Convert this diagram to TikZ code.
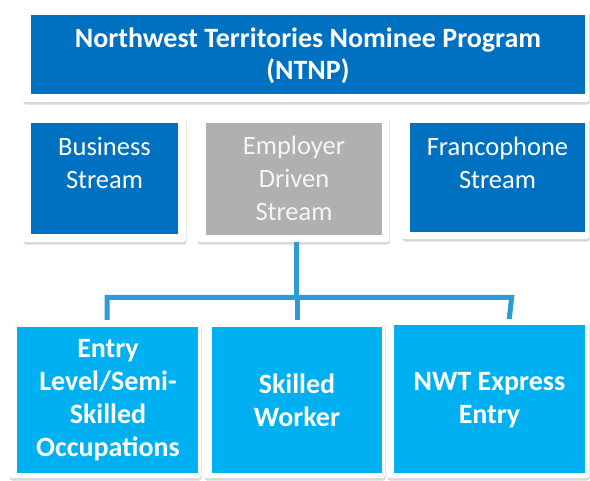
\documentclass[tikz,border=0pt]{standalone}
\usepackage{fontspec}
\setmainfont{Carlito}
\usetikzlibrary{shadows}
\definecolor{dblue}{RGB}{0,112,192}
\definecolor{lblue}{RGB}{0,176,240}
\definecolor{greybox}{RGB}{176,176,176}
\definecolor{conncol}{RGB}{45,155,215}
\begin{document}
\begin{tikzpicture}[x=1pt,y=-1pt,
  card/.style={draw=none,fill=white,rounded corners=3pt,anchor=north west,inner sep=0,
    drop shadow={shadow xshift=0.5pt,shadow yshift=-2.5pt,opacity=0.25,fill=black!60}},
  inbox/.style={draw=none,anchor=north west,inner sep=0},
  lbl/.style={text=white,align=center,inner sep=0,font=\fontsize{26.5}{33}\selectfont},
  lblb/.style={lbl,font=\fontsize{28}{33}\selectfont\bfseries},
  conn/.style={draw=conncol,line width=5pt}]
\useasboundingbox[fill=white] (0,0) rectangle (590,481);
% top
\node[card,minimum width=566pt,minimum height=94pt] (topc) at (23,8) {};
\node[inbox,fill=dblue,minimum width=554pt,minimum height=79pt] (topb) at (31,15) {};
\node[lblb,font=\fontsize{28}{32}\selectfont\bfseries] (toptext) at (308,56) {Northwest Territories Nominee Program\\(NTNP)};
% second row
\node[card,minimum width=163pt,minimum height=127pt] (busc) at (23,115) {};
\node[inbox,fill=dblue,minimum width=147pt,minimum height=111pt] (busb) at (31,123) {};
\node[lbl,anchor=north] (bust) at (104.5,137.5) {Business\\Stream};
\node[card,minimum width=192pt,minimum height=127pt] (empc) at (197,115) {};
\node[inbox,fill=greybox,minimum width=176pt,minimum height=112pt] (empb) at (206,123) {};
\node[lbl,anchor=north,text=white!96!black] (empt) at (294,136) {Employer\\Driven\\Stream};
\node[card,minimum width=187pt,minimum height=124pt] (frac) at (402,115) {};
\node[inbox,fill=dblue,minimum width=175pt,minimum height=109pt] (frab) at (410,123) {};
\node[lbl,anchor=north] (frat) at (497.5,136.5) {Francophone\\Stream};
% bottom row
\node[card,minimum width=192pt,minimum height=159pt] (entc) at (9,319) {};
\node[inbox,fill=lblue,minimum width=181pt,minimum height=146pt] (entb) at (17,327) {};
\node[lblb] (entt) at (108,400) {Entry\\Level/Semi-\\Skilled\\Occupations};
\node[card,minimum width=181pt,minimum height=159pt] (skic) at (204,319) {};
\node[inbox,fill=lblue,minimum width=170pt,minimum height=146pt] (skib) at (212,327) {};
\node[lblb] (skit) at (297,400) {Skilled\\Worker};
\node[card,minimum width=202pt,minimum height=160pt] (nwtc) at (387,318) {};
\node[inbox,fill=lblue,minimum width=191pt,minimum height=148pt] (nwtb) at (394,325) {};
\node[lblb] (nwtt) at (489.5,400) {NWT Express\\Entry};
% connectors
\coordinate (j) at (296.5,297.5);
\draw[conn] ([xshift=3pt]empc.south) -- ([xshift=3pt]empc.south |- j);
\draw[conn] ([xshift=2pt,yshift=-1pt]entc.north) |- ([xshift=23.5pt]nwtc.north |- j) -- ([xshift=21pt,yshift=-1pt]nwtc.north);
\draw[conn] ([xshift=2.5pt,yshift=-1pt]skic.north) -- ([xshift=2.5pt]skic.north |- j);
\end{tikzpicture}
\end{document}
